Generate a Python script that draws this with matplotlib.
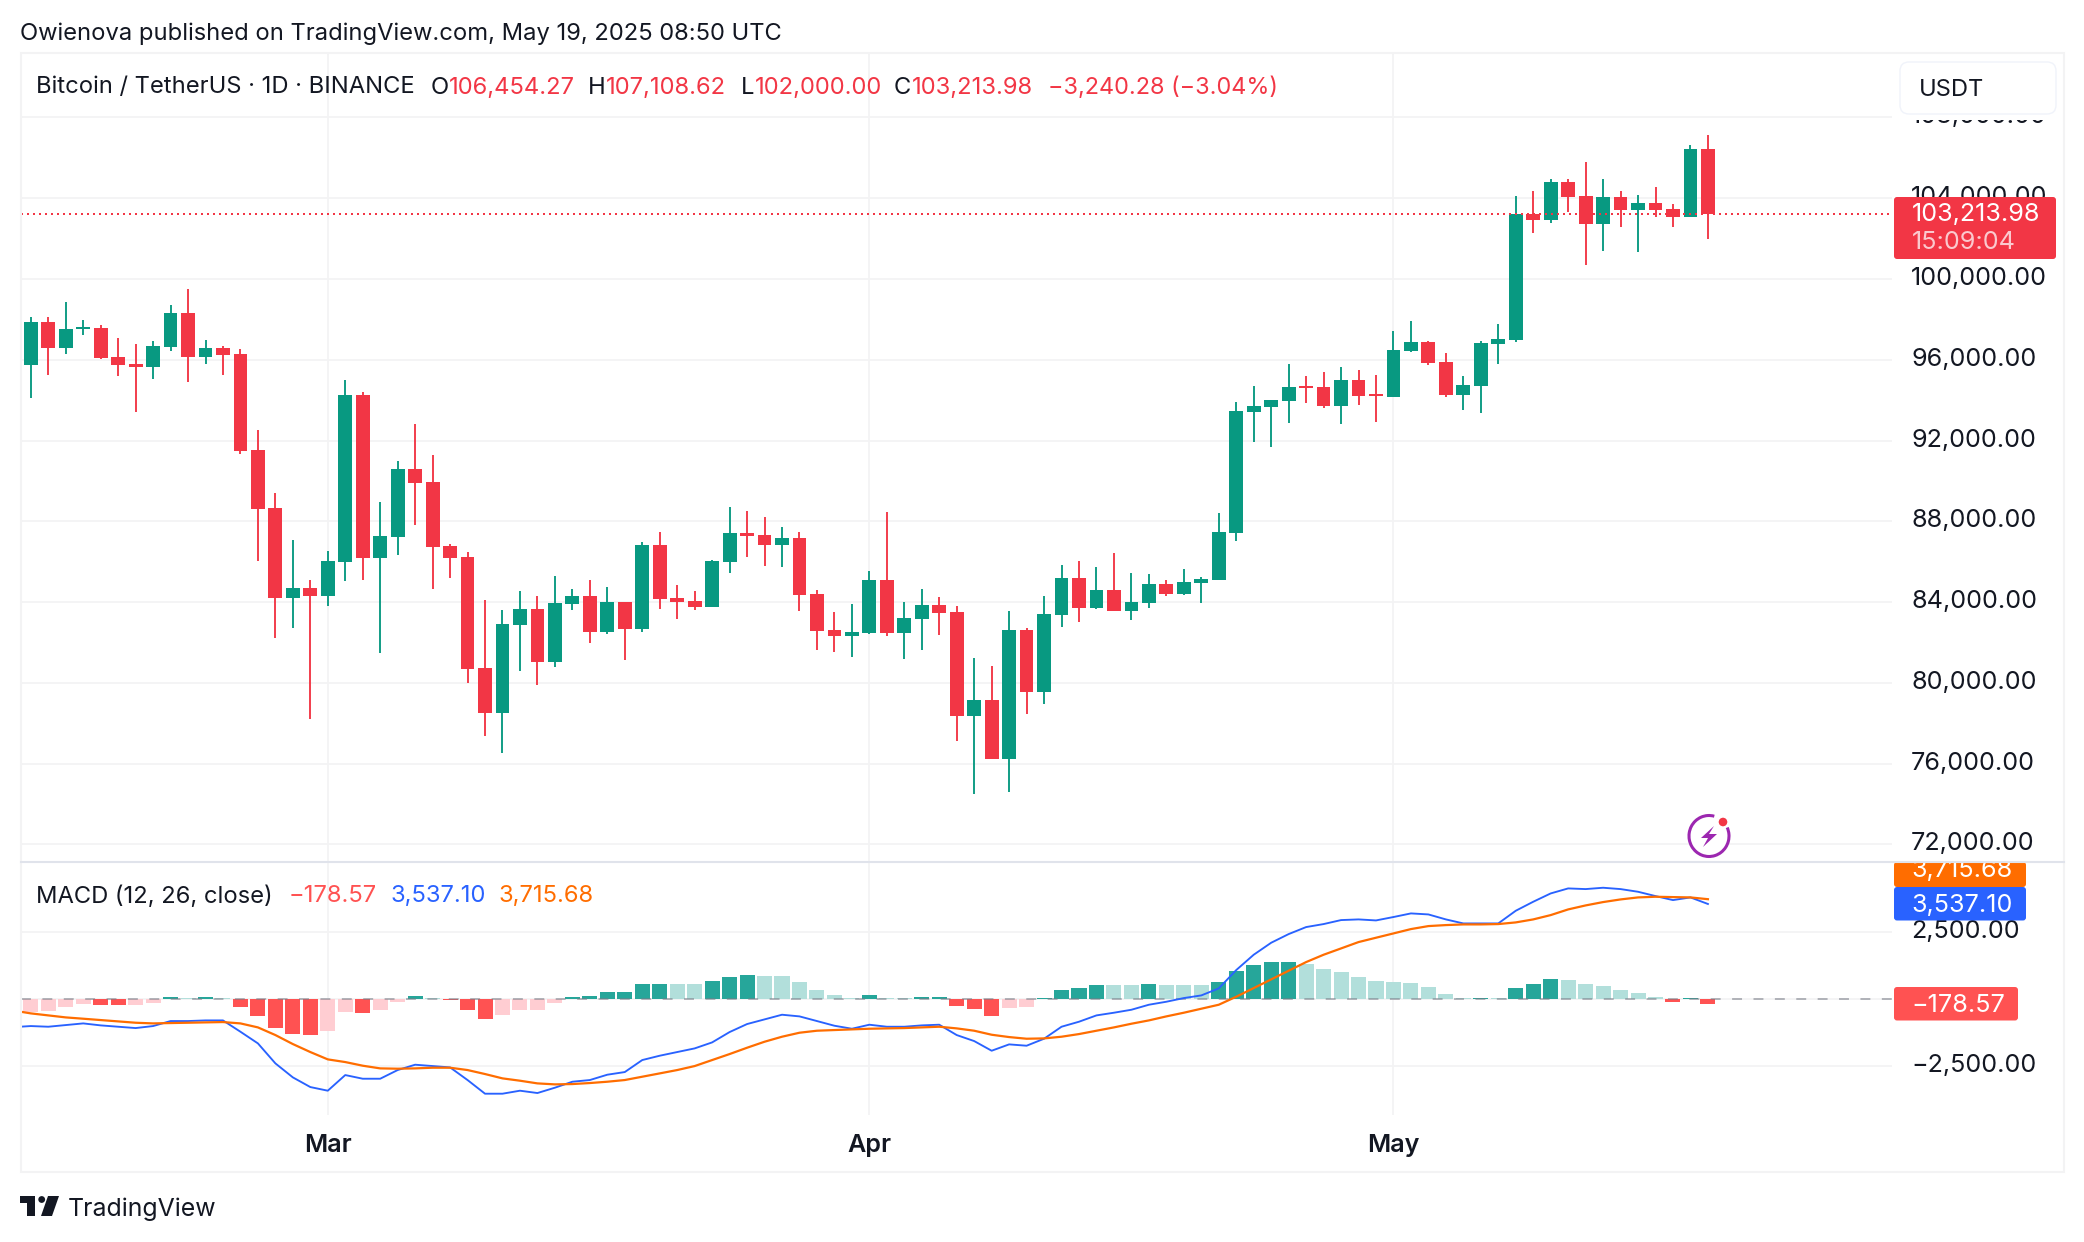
import matplotlib
matplotlib.use('Agg')
import matplotlib.pyplot as plt
from matplotlib.patches import Rectangle, FancyBboxPatch, Polygon, Circle, Arc
from matplotlib.transforms import ScaledTranslation

plt.rcParams['font.family'] = ['Inter', 'DejaVu Sans']

W, H = 2084, 1242

# daily candles, 12 Feb - 19 May 2025
opens = [95735, 97868, 96578, 97520, 97570, 96132, 95785, 95636, 96628, 98314,
         96132, 96578, 96281, 91520, 88644, 84181, 84677, 84280, 85966, 94248,
         86164, 87206, 90578, 89933, 86760, 86214, 80709, 78478, 82842, 83635,
         81007, 83883, 84280, 82495, 83982, 82643, 86809, 84181, 84032, 83730,
         86005, 87439, 87340, 86846, 87192, 84372, 82591, 82295, 82443, 85114,
         82443, 83136, 83828, 83482, 78337, 79128, 76210, 82591, 79524, 83333,
         85213, 83680, 84570, 83531, 83927, 84916, 84372, 84966, 85114, 87439,
         93390, 93638, 93935, 94677, 94628, 93687, 94975, 94281, 94133, 96410,
         96856, 95866, 94232, 94677, 96756, 96955, 103241, 102944, 104825, 104132,
         102746, 104082, 103439, 103785, 103488, 103092, 106454.27]
highs = [98116, 98116, 98859, 97967, 97719, 97074, 96777, 96925, 98711, 99504,
         96975, 96677, 96529, 92512, 89388, 87057, 85073, 86512, 94991, 94396,
         88941, 90975, 92809, 91272, 86859, 86462, 84082, 83586, 84528, 84280,
         85272, 84627, 85073, 84726, 83982, 86958, 87454, 84825, 84528, 86104,
         88725, 88528, 88231, 87736, 87489, 84570, 83482, 83878, 85559, 88478,
         83976, 84669, 84224, 83779, 81206, 80810, 83531, 82690, 84273, 85856,
         86054, 85757, 86450, 85461, 85411, 85114, 85658, 85263, 88429, 93885,
         94678, 93985, 95766, 95172, 95370, 95618, 95469, 95222, 97400, 97895,
         96905, 96311, 95172, 96905, 97748, 104132, 104379, 104973, 104973, 105815,
         104973, 104379, 104181, 104577, 103736, 106656, 107108.62]
lows = [94098, 95239, 96281, 97223, 96033, 95190, 93404, 95041, 96430, 94892,
        95785, 95239, 91322, 86016, 82197, 82693, 78180, 83784, 85024, 85073,
        81453, 86313, 87801, 84627, 85173, 79966, 77387, 76544, 80561, 79866,
        80759, 83586, 81949, 82395, 81106, 82495, 83635, 83139, 83585, 83730,
        85460, 86252, 85807, 85757, 83531, 81602, 81503, 81256, 82393, 82295,
        81157, 81602, 82344, 77100, 74478, 76210, 74577, 78436, 78931, 82740,
        82987, 83630, 83531, 83086, 83680, 84273, 84323, 83927, 85114, 87043,
        91906, 91658, 92846, 93836, 93588, 92796, 93737, 92895, 94133, 96360,
        95717, 94133, 93490, 93341, 95766, 96855, 102300, 102795, 103340, 100716,
        101410, 102597, 101360, 103092, 102597, 103092, 102000.00]
closes = [97868, 96578, 97520, 97620, 96082, 95735, 95636, 96677, 98314, 96132,
          96578, 96231, 91470, 88594, 84181, 84677, 84280, 86016, 94248, 86164,
          87255, 90578, 89884, 86710, 86164, 80660, 78478, 82892, 83635, 81007,
          83933, 84280, 82495, 83982, 82643, 86809, 84131, 83982, 83734, 86054,
          87439, 87291, 86846, 87192, 84323, 82542, 82295, 82492, 85114, 82443,
          83185, 83828, 83432, 78337, 79128, 76210, 82591, 79524, 83383, 85213,
          83680, 84570, 83531, 83976, 84916, 84372, 85015, 85164, 87489, 93440,
          93687, 93985, 94628, 94578, 93687, 94975, 94182, 94182, 96460, 96856,
          95816, 94232, 94727, 96806, 97004, 103241, 102944, 104825, 104082, 102746,
          104082, 103439, 103785, 103439, 103092, 106458, 103213.98]

# macd histogram, values and whether the bar is the strong or faded shade
hist = [-485, -460, -311, -199, -236, -236, -236, -162, 62, 25,
        62, 25, -311, -647, -1095, -1319, -1356, -1207, -498, -535,
        -423, -124, 100, 25, -50, -423, -759, -610, -423, -423,
        -162, 62, 100, 249, 249, 547, 547, 547, 547, 659,
        809, 883, 846, 846, 622, 323, 137, 25, 137, 25,
        25, 62, 62, -274, -386, -647, -348, -311, 25, 323,
        398, 510, 510, 510, 547, 510, 510, 510, 622, 1033,
        1256, 1368, 1368, 1294, 1107, 995, 809, 659, 622, 585,
        435, 174, 25, 25, 25, 398, 547, 734, 697, 547,
        473, 323, 211, 62, -124, 25, -178.57]
hist_faded = [1, 1, 1, 1, 0, 0, 1, 1, 0, 1,
              0, 1, 0, 0, 0, 0, 0, 1, 1, 0,
              1, 1, 0, 1, 0, 0, 0, 1, 1, 1,
              1, 0, 0, 0, 0, 0, 0, 1, 1, 0,
              0, 0, 1, 1, 1, 1, 1, 1, 0, 1,
              1, 0, 0, 0, 0, 0, 1, 1, 0, 0,
              0, 0, 1, 1, 0, 1, 1, 1, 0, 0,
              0, 0, 0, 1, 1, 1, 1, 1, 1, 1,
              1, 1, 1, 0, 1, 0, 0, 0, 1, 1,
              1, 1, 1, 1, 0, 0, 0]

# first point is one day before the first candle, clipped by the pane
macd_line = [-1060, -1020, -1045, -983, -921, -995, -1045, -1095, -1020, -833,
             -833, -809, -809, -1232, -1667, -2413, -2936, -3297, -3433, -2849,
             -2986, -2986, -2662, -2463, -2513, -2563, -3035, -3545, -3545, -3433,
             -3520, -3321, -3098, -3035, -2836, -2737, -2289, -2127, -1990, -1854,
             -1630, -1244, -945, -771, -597, -659, -833, -1008, -1120, -970,
             -1045, -1045, -995, -970, -1356, -1580, -1941, -1704, -1754, -1493,
             -1045, -858, -622, -522, -411, -224, -112, 25, 124, 386,
             1070, 1642, 2090, 2413, 2675, 2787, 2936, 2961, 2923, 3050,
             3185, 3147, 2961, 2811, 2811, 2811, 3284, 3620, 3931, 4118,
             4093, 4143, 4093, 3993, 3832, 3682, 3782, 3537.10]
signal_line = [-440, -547, -622, -697, -746, -796, -846, -896, -921, -908,
               -896, -883, -871, -921, -1070, -1356, -1692, -1990, -2264, -2364,
               -2500, -2600, -2612, -2600, -2575, -2575, -2662, -2811, -2973, -3060,
               -3160, -3197, -3185, -3147, -3098, -3035, -2911, -2787, -2662, -2513,
               -2289, -2065, -1829, -1605, -1418, -1269, -1194, -1169, -1144, -1120,
               -1107, -1095, -1070, -1045, -1107, -1194, -1344, -1431, -1493, -1481,
               -1418, -1319, -1194, -1070, -933, -809, -659, -522, -373, -224,
               75, 398, 722, 1045, 1368, 1642, 1878, 2115, 2277, 2438,
               2600, 2712, 2749, 2774, 2774, 2787, 2849, 2961, 3122, 3334,
               3483, 3608, 3707, 3782, 3807, 3794, 3782, 3715.68]

price_ticks = [72000, 76000, 80000, 84000, 88000, 92000, 96000, 100000, 104000, 108000]
macd_ticks = [-2500, 2500]
month_idx = [17, 48, 78]
month_labels = ['Mar', 'Apr', 'May']
last_price = 103213.98

GREEN = '#089981'
RED = '#f23645'
GRID = '#f3f3f4'
TEXT = '#131722'
FS = 17.1       # header text
FS_AXIS = 18.1  # price scale and tags


def fmt(v):
    s = f'{abs(v):,.2f}'
    return '\u2212' + s if v < 0 else s


def px_axes(x0, y0, x1, y1):
    return fig.add_axes([x0 / W, 1 - y1 / H, (x1 - x0) / W, (y1 - y0) / H])


fig = plt.figure(figsize=(W / 100, H / 100), dpi=100, facecolor='white')

# x: day i sits at 30.8 + 17.47 * i pixels
xlim = ((20.5 - 30.8) / 17.47, (1892 - 30.8) / 17.47)

ax = px_axes(20.5, 53, 1892, 861.5)
ax.set_xlim(xlim)
ax.set_ylim(71146, 111195)

for i in range(len(opens)):
    col = GREEN if closes[i] >= opens[i] else RED
    ax.vlines(i, lows[i], highs[i], color=col, lw=1.35, zorder=3)
    ax.bar(i, abs(closes[i] - opens[i]), bottom=min(opens[i], closes[i]), width=0.79,
           color=col, lw=0, zorder=3)

ax.axhline(last_price, color=RED, lw=1.44, dashes=(1, 2), zorder=4)

ax.set_yticks(price_ticks)
ax.set_yticklabels([fmt(v) for v in price_ticks], va='center_baseline')
ax.yaxis.tick_right()
ax.tick_params(axis='y', length=0, pad=13.7, labelsize=FS_AXIS, labelcolor=TEXT)
ax.set_xticks(month_idx)
ax.tick_params(axis='x', length=0, labelbottom=False)
ax.grid(True, color=GRID, lw=1.3, zorder=0)
ax.set_axisbelow(True)
for s in ax.spines.values():
    s.set_visible(False)

# macd pane
ax2 = px_axes(20.5, 862, 1892, 1115)
ax2.set_xlim(xlim)
ax2.set_ylim(-4340, 5104)

hist_cols = []
for v, f in zip(hist, hist_faded):
    if v >= 0:
        hist_cols.append('#b2dfdb' if f else '#26a69a')
    else:
        hist_cols.append('#ffcdd2' if f else '#ff5252')
ax2.bar(range(len(hist)), hist, width=0.86, color=hist_cols, lw=0, zorder=2)
ax2.axhline(0, color=GRID, lw=1.3, zorder=1)
ax2.axhline(0, color='#787b86', lw=1.4, alpha=0.55, dashes=(5.1, 5.9), zorder=3)

days = list(range(-1, len(macd_line) - 1))
ax2.plot(days, macd_line, color='#2962ff', lw=1.35, zorder=4)
ax2.plot(days, signal_line, color='#ff6d00', lw=1.6, zorder=5)

ax2.set_yticks(macd_ticks)
ax2.set_yticklabels([fmt(v) for v in macd_ticks], va='center_baseline')
ax2.yaxis.tick_right()
ax2.tick_params(axis='y', length=0, pad=13.7, labelsize=FS_AXIS, labelcolor=TEXT)
ax2.set_xticks(month_idx)
ax2.set_xticklabels(month_labels, fontsize=FS_AXIS, fontweight='semibold', color=TEXT)
ax2.tick_params(axis='x', length=0, pad=14)
ax2.grid(True, color=GRID, lw=1.3, zorder=0)
ax2.set_axisbelow(True)
for s in ax2.spines.values():
    s.set_visible(False)

# price scale labels sit a little above their gridlines
lift = ScaledTranslation(0, 3 / 100, fig.dpi_scale_trans)
for a in (ax, ax2):
    for t in a.get_yticklabels():
        t.set_transform(t.get_transform() + lift)

# pixel overlay for frame, headers, price tags
ov = fig.add_axes([0, 0, 1, 1], facecolor='none')
ov.set_xlim(0, W)
ov.set_ylim(H, 0)
ov.axis('off')

# hides most of the 108,000.00 label, as in the screenshot
ov.add_patch(Rectangle((1893, 54), 170, 66, fc='white', ec='none', zorder=1))
ov.add_patch(Rectangle((20.5, 53), 2043.5, 1119, fc='none', ec=GRID, lw=1.5, zorder=2))
ov.plot([20.5, 2064], [861.5, 861.5], color='#e0e3eb', lw=1.5, zorder=8)


def label(x, y, s, color=TEXT, size=FS, **kw):
    return ov.text(x, y, s, color=color, fontsize=size, va='center_baseline', ha='left', **kw)


def tag(x0, y0, x1, y1, col):
    ov.add_patch(FancyBboxPatch((x0, y0), x1 - x0, y1 - y0, boxstyle='round,pad=0,rounding_size=3',
                                fc=col, ec='none', zorder=6))


label(20, 31, 'Owienova published on TradingView.com, May 19, 2025 08:50 UTC')

label(36, 85, 'Bitcoin / TetherUS \u00b7 1D \u00b7 BINANCE')
for x, s, col in [(431, 'O', TEXT), (449, '106,454.27', RED), (588, 'H', TEXT), (606, '107,108.62', RED),
                  (741, 'L', TEXT), (755, '102,000.00', RED), (894, 'C', TEXT), (912, '103,213.98', RED)]:
    label(x, 85, s, col)
label(1048, 85, '\u22123,240.28 (\u22123.04%)', RED, size=16.9)

ov.add_patch(FancyBboxPatch((1900, 62), 156, 52, boxstyle='round,pad=0,rounding_size=9',
                            fc='white', ec='#f0f3fa', lw=1, zorder=6))
label(1919, 87, 'USDT', zorder=7)

tag(1894, 197, 2056, 259, RED)
label(1912, 212, '103,213.98', 'white', size=FS_AXIS, zorder=7)
label(1912, 240, '15:09:04', '#fbc9ce', size=FS_AXIS, zorder=7)

label(36.5, 894, 'MACD (12, 26, close)')
for x, s, col in [(289, fmt(hist[-1]), '#ff5252'), (391, fmt(macd_line[-1]), '#2962ff'),
                  (499, fmt(signal_line[-1]), '#ff6d00')]:
    label(x, 894, s, col)

tag(1894, 862, 2026, 887, '#ff6d00')
label(1911, 868, fmt(signal_line[-1]), 'white', size=FS_AXIS, zorder=7,
      clip_on=True, clip_path=Rectangle((1892, 862), 172, 30, transform=ov.transData))
tag(1894, 887, 2026, 920.5, '#2962ff')
label(1911, 903, fmt(macd_line[-1]), 'white', size=FS_AXIS, zorder=7)
tag(1894, 987, 2018, 1020.5, '#ff5252')
label(1911, 1003, fmt(hist[-1]), 'white', size=FS_AXIS, zorder=7)

# news flash icon
ov.add_patch(Circle((1709, 836), 20, fc='white', ec='none', zorder=6))
ov.add_patch(Arc((1709, 836), 40, 41, theta1=-25, theta2=285, ec='#9c27b0', lw=2.2, zorder=7))
ov.add_patch(Polygon([(1714, 826), (1701, 838), (1708, 838), (1703, 847), (1717, 834), (1709, 834)],
                     fc='#9c27b0', ec='none', zorder=7))
ov.add_patch(Circle((1723, 822), 5, fc=RED, ec='white', lw=1, zorder=8))

# tradingview logo
logo = '#131722'
ov.add_patch(Polygon([(20, 1196), (35, 1196), (35, 1216), (27, 1216), (27, 1203), (20, 1203)], fc=logo, ec='none'))
ov.add_patch(Circle((41.7, 1199.5), 3.4, fc=logo, ec='none'))
ov.add_patch(Polygon([(48, 1196), (59, 1196), (52, 1216), (41, 1216)], fc=logo, ec='none'))
label(67.5, 1207, 'TradingView', size=17.9)

fig.savefig('out.png', dpi=100, facecolor='white')
